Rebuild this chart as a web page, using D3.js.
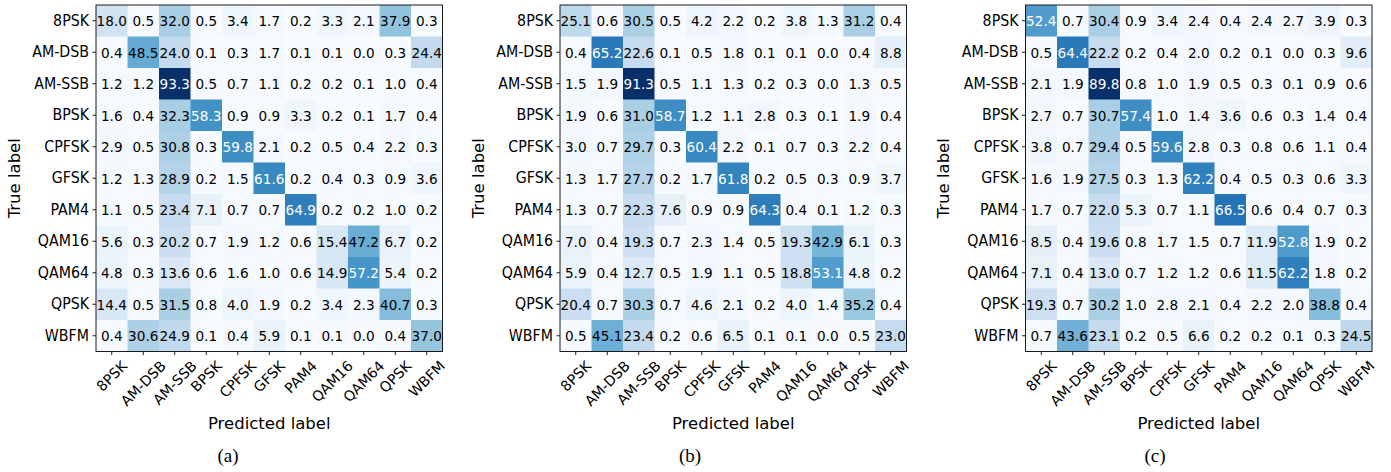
<!DOCTYPE html>
<html>
<head>
<meta charset="utf-8">
<script src="https://cdn.jsdelivr.net/npm/d3@7"></script>
<style>
  html, body { margin: 0; padding: 0; background: #fff; }
  svg { display: block; }
</style>
</head>
<body>
<svg id="chart" width="1391" height="472"></svg>
<script>
const categories = ["8PSK", "AM-DSB", "AM-SSB", "BPSK", "CPFSK", "GFSK", "PAM4", "QAM16", "QAM64", "QPSK", "WBFM"];

const matrixA = [
  [18.0, 0.5, 32.0, 0.5, 3.4, 1.7, 0.2, 3.3, 2.1, 37.9, 0.3],
  [0.4, 48.5, 24.0, 0.1, 0.3, 1.7, 0.1, 0.1, 0.0, 0.3, 24.4],
  [1.2, 1.2, 93.3, 0.5, 0.7, 1.1, 0.2, 0.2, 0.1, 1.0, 0.4],
  [1.6, 0.4, 32.3, 58.3, 0.9, 0.9, 3.3, 0.2, 0.1, 1.7, 0.4],
  [2.9, 0.5, 30.8, 0.3, 59.8, 2.1, 0.2, 0.5, 0.4, 2.2, 0.3],
  [1.2, 1.3, 28.9, 0.2, 1.5, 61.6, 0.2, 0.4, 0.3, 0.9, 3.6],
  [1.1, 0.5, 23.4, 7.1, 0.7, 0.7, 64.9, 0.2, 0.2, 1.0, 0.2],
  [5.6, 0.3, 20.2, 0.7, 1.9, 1.2, 0.6, 15.4, 47.2, 6.7, 0.2],
  [4.8, 0.3, 13.6, 0.6, 1.6, 1.0, 0.6, 14.9, 57.2, 5.4, 0.2],
  [14.4, 0.5, 31.5, 0.8, 4.0, 1.9, 0.2, 3.4, 2.3, 40.7, 0.3],
  [0.4, 30.6, 24.9, 0.1, 0.4, 5.9, 0.1, 0.1, 0.0, 0.4, 37.0]
];

const matrixB = [
  [25.1, 0.6, 30.5, 0.5, 4.2, 2.2, 0.2, 3.8, 1.3, 31.2, 0.4],
  [0.4, 65.2, 22.6, 0.1, 0.5, 1.8, 0.1, 0.1, 0.0, 0.4, 8.8],
  [1.5, 1.9, 91.3, 0.5, 1.1, 1.3, 0.2, 0.3, 0.0, 1.3, 0.5],
  [1.9, 0.6, 31.0, 58.7, 1.2, 1.1, 2.8, 0.3, 0.1, 1.9, 0.4],
  [3.0, 0.7, 29.7, 0.3, 60.4, 2.2, 0.1, 0.7, 0.3, 2.2, 0.4],
  [1.3, 1.7, 27.7, 0.2, 1.7, 61.8, 0.2, 0.5, 0.3, 0.9, 3.7],
  [1.3, 0.7, 22.3, 7.6, 0.9, 0.9, 64.3, 0.4, 0.1, 1.2, 0.3],
  [7.0, 0.4, 19.3, 0.7, 2.3, 1.4, 0.5, 19.3, 42.9, 6.1, 0.3],
  [5.9, 0.4, 12.7, 0.5, 1.9, 1.1, 0.5, 18.8, 53.1, 4.8, 0.2],
  [20.4, 0.7, 30.3, 0.7, 4.6, 2.1, 0.2, 4.0, 1.4, 35.2, 0.4],
  [0.5, 45.1, 23.4, 0.2, 0.6, 6.5, 0.1, 0.1, 0.0, 0.5, 23.0]
];

const matrixC = [
  [52.4, 0.7, 30.4, 0.9, 3.4, 2.4, 0.4, 2.4, 2.7, 3.9, 0.3],
  [0.5, 64.4, 22.2, 0.2, 0.4, 2.0, 0.2, 0.1, 0.0, 0.3, 9.6],
  [2.1, 1.9, 89.8, 0.8, 1.0, 1.9, 0.5, 0.3, 0.1, 0.9, 0.6],
  [2.7, 0.7, 30.7, 57.4, 1.0, 1.4, 3.6, 0.6, 0.3, 1.4, 0.4],
  [3.8, 0.7, 29.4, 0.5, 59.6, 2.8, 0.3, 0.8, 0.6, 1.1, 0.4],
  [1.6, 1.9, 27.5, 0.3, 1.3, 62.2, 0.4, 0.5, 0.3, 0.6, 3.3],
  [1.7, 0.7, 22.0, 5.3, 0.7, 1.1, 66.5, 0.6, 0.4, 0.7, 0.3],
  [8.5, 0.4, 19.6, 0.8, 1.7, 1.5, 0.7, 11.9, 52.8, 1.9, 0.2],
  [7.1, 0.4, 13.0, 0.7, 1.2, 1.2, 0.6, 11.5, 62.2, 1.8, 0.2],
  [19.3, 0.7, 30.2, 1.0, 2.8, 2.1, 0.4, 2.2, 2.0, 38.8, 0.4],
  [0.7, 43.6, 23.1, 0.2, 0.5, 6.6, 0.2, 0.2, 0.1, 0.3, 24.5]
];

const captions = ["(a)", "(b)", "(c)"];
const xAxisTitle = "Predicted label";
const yAxisTitle = "True label";

// ---- layout ----
const panels = [
  { data: matrixA, left: 96,   capX: 228 },
  { data: matrixB, left: 560,  capX: 690 },
  { data: matrixC, left: 1025.5, capX: 1155 }
];
const plotTop = 5, size = 346.5;
const tickFont = 14.2, annFont = 13.6, titleFont = 16.5;
const vStretch = 1.08;
const FONT = "'DejaVu Sans', sans-serif";

const svg = d3.select("#chart");

panels.forEach((p, pi) => {
  const g = svg.append("g");
  const x = d3.scaleBand().domain(categories).range([p.left, p.left + size]);
  const y = d3.scaleBand().domain(categories).range([plotTop, plotTop + size]);
  const vmax = d3.max(p.data.flat());
  const color = d3.scaleLinear()
    .domain(d3.range(9).map(i => i / 8 * vmax))
    .range(d3.schemeBlues[9])
    .clamp(true);

  const cells = [];
  p.data.forEach((row, ri) => row.forEach((v, ci) => cells.push({ r: categories[ri], c: categories[ci], v })));

  g.selectAll("rect.cell").data(cells).join("rect")
    .attr("class", "cell")
    .attr("x", d => x(d.c))
    .attr("y", d => y(d.r))
    .attr("width", x.bandwidth() + 0.5)
    .attr("height", y.bandwidth() + 0.5)
    .attr("fill", d => color(d.v));

  g.selectAll("text.ann").data(cells).join("text")
    .attr("class", "ann")
    .attr("transform", d => `translate(${x(d.c) + x.bandwidth() / 2},${y(d.r) + y.bandwidth() / 2}) scale(1,${vStretch})`)
    .attr("dy", "0.36em")
    .attr("text-anchor", "middle")
    .style("font-family", FONT)
    .style("font-size", annFont + "px")
    .attr("fill", d => d.v > 50 ? "#ffffff" : "#000000")
    .text(d => d.v.toFixed(1));

  // frame
  g.append("rect")
    .attr("x", p.left).attr("y", plotTop)
    .attr("width", size).attr("height", size)
    .attr("fill", "none").attr("stroke", "#1a1a1a").attr("stroke-width", 1);

  // y axis
  const yAx = g.append("g")
    .attr("transform", `translate(${p.left},0)`)
    .call(d3.axisLeft(y).tickSize(3.5).tickPadding(3.5).tickSizeOuter(0));
  yAx.attr("font-size", tickFont).attr("font-family", FONT);
  yAx.select(".domain").remove();
  yAx.selectAll(".tick line").attr("stroke", "#1a1a1a");
  yAx.selectAll(".tick text")
    .style("font-family", FONT).style("font-size", tickFont + "px").attr("fill", "#000")
    .attr("transform", `scale(1,${vStretch})`);

  // x axis
  const xAx = g.append("g")
    .attr("transform", `translate(0,${plotTop + size})`)
    .call(d3.axisBottom(x).tickSize(3.5).tickPadding(3.5).tickSizeOuter(0));
  xAx.attr("font-size", tickFont).attr("font-family", FONT);
  xAx.select(".domain").remove();
  xAx.selectAll(".tick line").attr("stroke", "#1a1a1a");
  xAx.selectAll(".tick text")
    .style("font-family", FONT).style("font-size", tickFont + "px").attr("fill", "#000")
    .attr("text-anchor", "middle")
    .attr("y", 0).attr("dy", "0.35em")
    .each(function () {
      const w = this.getComputedTextLength();
      const h = 1.164 * tickFont;
      const half = (w + h) * Math.SQRT1_2 / 2;
      d3.select(this).attr("transform", `translate(0,${6 + half}) rotate(-45)`);
    });

  // titles
  g.append("text")
    .attr("x", p.left + size / 2).attr("y", 429)
    .attr("text-anchor", "middle")
    .style("font-family", FONT).style("font-size", titleFont + "px").attr("fill", "#000")
    .text(xAxisTitle);

  g.append("text")
    .attr("transform", `translate(${p.left - 82},${plotTop + size / 2}) rotate(-90)`)
    .attr("text-anchor", "middle")
    .attr("dy", "0.35em")
    .style("font-family", FONT).style("font-size", titleFont + "px").attr("fill", "#000")
    .text(yAxisTitle);

  g.append("text")
    .attr("x", p.capX).attr("y", 462)
    .attr("text-anchor", "middle")
    .style("font-family", "'Liberation Serif', 'Times New Roman', serif").style("font-size", "19px").attr("fill", "#000")
    .text(captions[pi]);
});
</script>
</body>
</html>
